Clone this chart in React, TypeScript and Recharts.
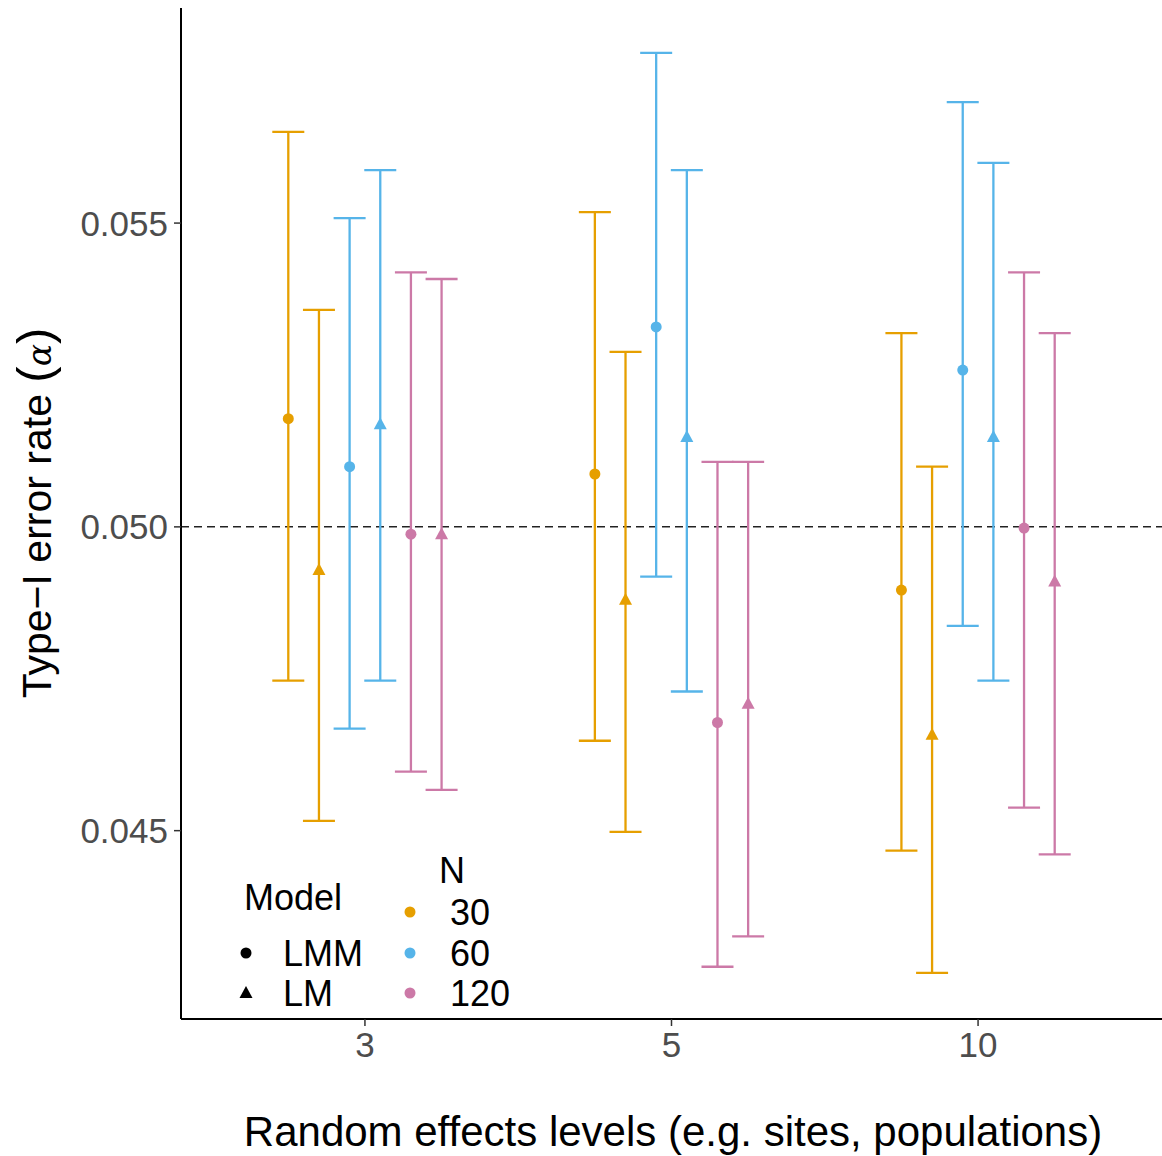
import React from 'react';
import { ComposedChart, Scatter, ErrorBar, XAxis, YAxis, ReferenceLine } from 'recharts';

// Random effects levels (categories on the x axis)
const levels = ['3', '5', '10'];
const yTicks = [0.045, 0.05, 0.055];

// point estimates, lower and upper CI for each N x Model combination
const lmm30 = [0.05178, 0.05087, 0.04896];
const lmm30Lo = [0.04747, 0.04648, 0.04467];
const lmm30Hi = [0.0565, 0.05518, 0.05319];

const lm30 = [0.04929, 0.0488, 0.04658];
const lm30Lo = [0.04516, 0.04498, 0.04266];
const lm30Hi = [0.05357, 0.05288, 0.05099];

const lmm60 = [0.05099, 0.05329, 0.05258];
const lmm60Lo = [0.04668, 0.04918, 0.04837];
const lmm60Hi = [0.05508, 0.0578, 0.05699];

const lm60 = [0.05169, 0.05148, 0.05148];
const lm60Lo = [0.04747, 0.04729, 0.04747];
const lm60Hi = [0.05587, 0.05587, 0.05599];

const lmm120 = [0.04988, 0.04678, 0.04998];
const lmm120Lo = [0.04597, 0.04276, 0.04538];
const lmm120Hi = [0.05419, 0.05107, 0.05419];

const lm120 = [0.04988, 0.04709, 0.0491];
const lm120Lo = [0.04567, 0.04326, 0.04461];
const lm120Hi = [0.05408, 0.05107, 0.05319];

const COLORS = { '30': '#E69F00', '60': '#56B4E9', '120': '#CC79A7' };

const build = (mean: number[], lo: number[], hi: number[], dodge: number) =>
  mean.map((v, i) => ({ x: i + 1 + dodge, y: v, err: [v - lo[i], hi[i] - v] }));

const series = [
  { key: 'lmm30', n: '30', model: 'LMM', data: build(lmm30, lmm30Lo, lmm30Hi, -0.25) },
  { key: 'lm30', n: '30', model: 'LM', data: build(lm30, lm30Lo, lm30Hi, -0.15) },
  { key: 'lmm60', n: '60', model: 'LMM', data: build(lmm60, lmm60Lo, lmm60Hi, -0.05) },
  { key: 'lm60', n: '60', model: 'LM', data: build(lm60, lm60Lo, lm60Hi, 0.05) },
  { key: 'lmm120', n: '120', model: 'LMM', data: build(lmm120, lmm120Lo, lmm120Hi, 0.15) },
  { key: 'lm120', n: '120', model: 'LM', data: build(lm120, lm120Lo, lm120Hi, 0.25) },
];

const FONT = 'Liberation Sans, Arial, sans-serif';

const makeShape = (model: string, color: string) => (props: any) => {
  const { cx, cy } = props;
  if (model === 'LMM') return <circle cx={cx} cy={cy} r={5.5} fill={color} />;
  return <polygon points={`${cx},${cy - 7} ${cx - 6.5},${cy + 5} ${cx + 6.5},${cy + 5}`} fill={color} />;
};

export default function App() {
  return (
    <div style={{ position: 'absolute', left: 0, top: 0, width: 1162, height: 1156, background: '#fff' }}>
      <ComposedChart width={1162} height={1156} margin={{ top: 8, right: 0, left: 0, bottom: 0 }}>
        <XAxis
          type="number"
          dataKey="x"
          domain={[0.4, 3.6]}
          ticks={[1, 2, 3]}
          tickFormatter={(v) => levels[v - 1]}
          allowDataOverflow
          height={137}
          axisLine={{ stroke: '#000', strokeWidth: 2 }}
          tickLine={{ stroke: '#333', strokeWidth: 1.5 }}
          tickSize={7}
          tick={{ fill: '#4D4D4D', fontSize: 35, fontFamily: FONT, dy: 4 }}
        />
        <YAxis
          type="number"
          dataKey="y"
          domain={[0.0419, 0.05854]}
          ticks={yTicks}
          tickFormatter={(v) => v.toFixed(3)}
          allowDataOverflow
          width={181}
          axisLine={{ stroke: '#000', strokeWidth: 2 }}
          tickLine={{ stroke: '#333', strokeWidth: 1.5 }}
          tickSize={7}
          tick={{ fill: '#4D4D4D', fontSize: 35, fontFamily: FONT, dx: -4 }}
        />
        <ReferenceLine y={0.05} stroke="#222" strokeWidth={1.5} strokeDasharray="8 5" />
        {series.map((s) => {
          const color = COLORS[s.n as keyof typeof COLORS];
          return (
            <Scatter
              key={s.key}
              name={s.key}
              data={s.data}
              dataKey="y"
              isAnimationActive={false}
              shape={makeShape(s.model, color)}
            >
              <ErrorBar dataKey="err" direction="y" width={16} stroke={color} strokeWidth={2.3} />
            </Scatter>
          );
        })}
      </ComposedChart>
      <svg width={1162} height={1156} style={{ position: 'absolute', left: 0, top: 0, pointerEvents: 'none' }}>
        <g fontFamily={FONT} fill="#000">
          <text
            x={51}
            y={513}
            fontSize={41}
            textAnchor="middle"
            transform="rotate(-90, 51, 513)"
          >
            Type−I error rate <tspan fontSize={49}>(</tspan>
            <tspan fontFamily="DejaVu Serif, serif" fontStyle="italic" fontSize={33}>α</tspan>
            <tspan fontSize={49}>)</tspan>
          </text>
          <text x={673} y={1146} fontSize={42} textAnchor="middle">
            Random effects levels (e.g. sites, populations)
          </text>
          {/* legend: Model */}
          <text x={244} y={910} fontSize={36}>Model</text>
          <circle cx={246} cy={953} r={5.5} fill="#000" />
          <text x={283} y={966} fontSize={36}>LMM</text>
          <polygon points="246,986 239.5,998 252.5,998" fill="#000" />
          <text x={283} y={1006} fontSize={36}>LM</text>
          {/* legend: N */}
          <text x={439} y={883} fontSize={36}>N</text>
          <circle cx={410} cy={912} r={5.5} fill={COLORS['30']} />
          <text x={450} y={925} fontSize={36}>30</text>
          <circle cx={410} cy={953} r={5.5} fill={COLORS['60']} />
          <text x={450} y={966} fontSize={36}>60</text>
          <circle cx={410} cy={993} r={5.5} fill={COLORS['120']} />
          <text x={450} y={1006} fontSize={36}>120</text>
        </g>
      </svg>
    </div>
  );
}
